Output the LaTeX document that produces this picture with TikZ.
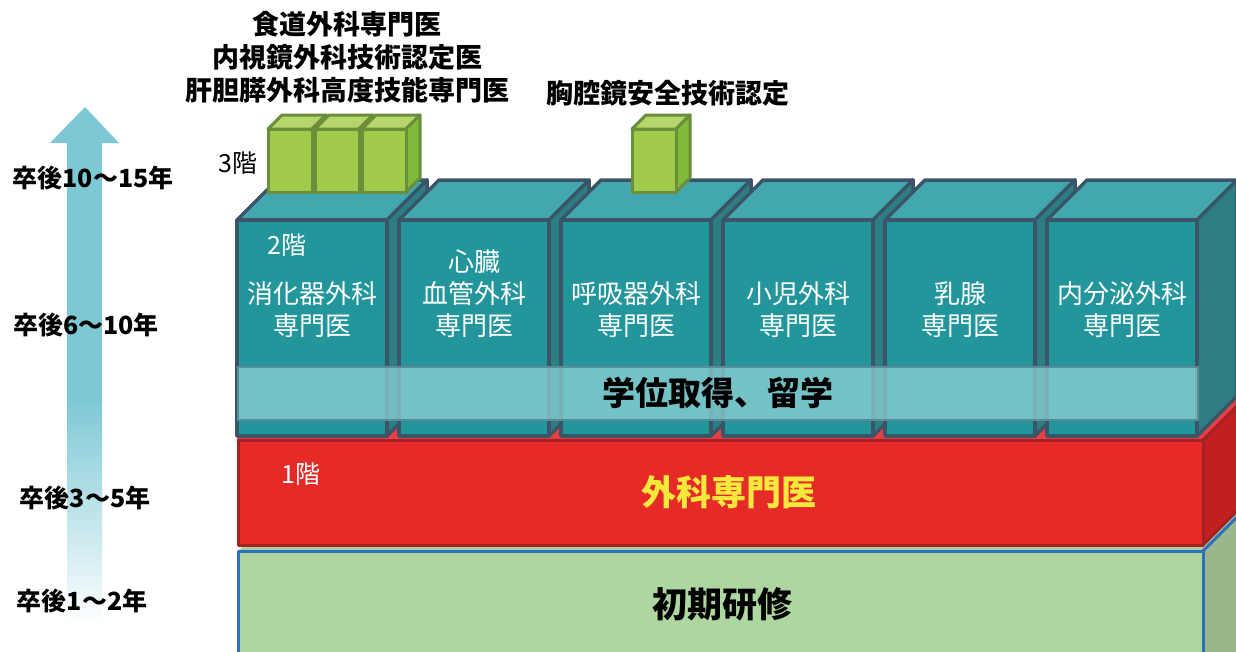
\documentclass[tikz,border=0pt]{standalone}
\usepackage{fontspec}
\setmainfont{Noto Sans CJK JP}
\usetikzlibrary{positioning}

\definecolor{arrowblue}{HTML}{7DC8D5}
\definecolor{tealfront}{HTML}{23969C}
\definecolor{tealtop}{HTML}{42A8AD}
\definecolor{tealside}{HTML}{2D7E82}
\definecolor{tealedge}{HTML}{3A5468}
\definecolor{bandfill}{HTML}{8ED2D5}
\definecolor{bandedge}{HTML}{5A8C98}
\definecolor{redfront}{HTML}{E62A28}
\definecolor{redtop}{HTML}{E84040}
\definecolor{redside}{HTML}{C21F20}
\definecolor{rededge}{HTML}{A32224}
\definecolor{greenfront}{HTML}{AED6A0}
\definecolor{greenside}{HTML}{9AB78C}
\definecolor{blueedge}{HTML}{2F6FBE}
\definecolor{cubefront}{HTML}{A2CA4A}
\definecolor{cubetop}{HTML}{B6D66C}
\definecolor{cubeside}{HTML}{7FBA3A}
\definecolor{cubeedge}{HTML}{6A8E3A}
\definecolor{yellowtext}{HTML}{F6E93C}

\begin{document}
\begin{tikzpicture}[x=1pt, y=-1pt,
  tealface/.style={draw=tealedge, line width=3.5pt, line join=round},
  redface/.style={draw=rededge, line width=3pt, line join=round},
  greenface/.style={draw=blueedge, line width=3pt, line join=round},
  cubeface/.style={draw=cubeedge, line width=3pt, line join=round},
  yearlabel/.style={font=\bfseries\fontsize{25}{29}\selectfont, inner sep=0pt},
  speclabel/.style={font=\fontsize{26}{32}\selectfont, text=white, align=center, inner sep=0pt},
  kailabel/.style={font=\fontsize{25}{28}\selectfont, inner sep=0pt},
  certlabel/.style={font=\bfseries\fontsize{27}{33}\selectfont, align=center, inner sep=0pt}
]
\useasboundingbox (0,0) rectangle (1236,651);
\clip (0,0) rectangle (1236,651);

% time arrow
\fill[arrowblue] (67,142) rectangle (102,400);
\shade[top color=arrowblue, bottom color=white] (67,399) rectangle (102,625);
\fill[arrowblue] (50,143) -- (85,107) -- (119,143) -- cycle;

% ground floor: initial training
\fill[greenfront!85!black!20!greenfront] (238,551) -- (278,511) -- (1243,511) -- (1203,551) -- cycle;
\filldraw[greenface, fill=greenside] (1203,551) -- (1243,511) -- (1243,660) -- (1203,660) -- cycle;
\filldraw[greenface, fill=greenfront] (238,551) rectangle (1203,660);

% 1st floor: surgical specialist
\filldraw[redface, draw=redtop, fill=redtop] (238,440) -- (278,400) -- (1243,400) -- (1203,440) -- cycle;
\filldraw[redface, fill=redside] (1203,440) -- (1243,400) -- (1243,505) -- (1203,545) -- cycle;
\filldraw[redface, fill=redfront] (238,440) rectangle (1203,545);

% 2nd floor: subspecialty blocks
\foreach \i in {0,...,5} {
  \pgfmathsetmacro{\xa}{237+162*\i}
  \filldraw[tealface, fill=tealtop] (\xa,220) -- (\xa+40,180) -- (\xa+190,180) -- (\xa+150,220) -- cycle;
  \filldraw[tealface, fill=tealside] (\xa+150,220) -- (\xa+190,180) -- (\xa+190,396) -- (\xa+150,436) -- cycle;
  \filldraw[tealface, fill=tealfront] (\xa,220) rectangle (\xa+150,436);
}

% degree / study abroad band
\filldraw[draw=bandedge, line width=1.2pt, fill=bandfill, fill opacity=0.75] (238,367) rectangle (1198,420);

% 3rd floor: certification cubes
\foreach \cx in {268,315,362,632} {
  \filldraw[cubeface, fill=cubetop] (\cx,129) -- (\cx+14,115) -- (\cx+58,115) -- (\cx+44,129) -- cycle;
  \filldraw[cubeface, fill=cubeside] (\cx+44,129) -- (\cx+58,115) -- (\cx+58,178) -- (\cx+44,192) -- cycle;
  \filldraw[cubeface, fill=cubefront] (\cx,129) rectangle (\cx+44,192);
}

% texts
\node[font=\bfseries\fontsize{35}{38}\selectfont, inner sep=0pt] (shoki) at (722,604) {初期研修};
\node[font=\bfseries\fontsize{35}{38}\selectfont, text=yellowtext, inner sep=0pt] (geka) at (729,492) {外科専門医};
\node[font=\bfseries\fontsize{33}{36}\selectfont, inner sep=0pt] (gakui) at (718,393) {学位取得、留学};

\foreach \i/\txt in {0/{消化器外科\\専門医}, 1/{心臓\\血管外科\\専門医}, 2/{呼吸器外科\\専門医},
                     3/{小児外科\\専門医}, 4/{乳腺\\専門医}, 5/{内分泌外科\\専門医}} {
  \node[speclabel, anchor=south] (spec\i) at (312+162*\i,338) {\txt};
}

\node[kailabel, text=white] (kai1) at (301,474) {1階};
\node[kailabel, text=white] (kai2) at (287,245) {2階};
\node[kailabel] (kai3) at (238,163) {3階};

\node[certlabel] (certA) at (347,57) {食道外科専門医\\内視鏡外科技術認定医\\肝胆膵外科高度技能専門医};
\node[certlabel] (certB) at (668,93) {胸腔鏡安全技術認定};

\node[yearlabel] (y4) at (93,178) {卒後10〜15年};
\node[yearlabel] (y3) at (86,325) {卒後6〜10年};
\node[yearlabel] (y2) at (85,498) {卒後3〜5年};
\node[yearlabel] (y1) at (82,601) {卒後1〜2年};
\end{tikzpicture}
\end{document}
